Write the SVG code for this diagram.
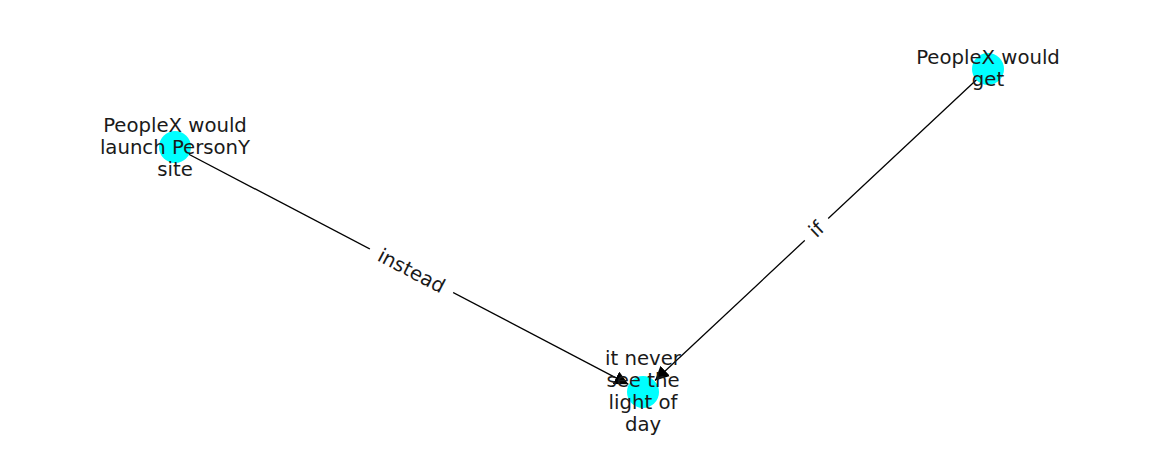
<svg xmlns="http://www.w3.org/2000/svg" width="1162" height="462" viewBox="0 0 1162 462">
<style>
.node{fill:#00ffff;stroke:none}
.edge{stroke:#000;stroke-width:1.3;fill:none}
text{font-family:"DejaVu Sans",sans-serif;font-size:19.7px;fill:#1a1a1a;text-anchor:middle}
.lbl{fill:#fff;stroke:none}
</style>
<defs>
<marker id="arr" viewBox="0 0 10 10" refX="10" refY="5" markerWidth="14" markerHeight="14" markerUnits="userSpaceOnUse" orient="auto">
<path d="M0,0 L10,5 L0,10 z" fill="#000"/>
</marker>
</defs>
<rect width="1162" height="462" fill="#fff"/>
<g id="edges">
<line class="edge" x1="175" y1="147" x2="628.4" y2="384.3" marker-end="url(#arr)"/>
<line class="edge" x1="988" y1="69" x2="655" y2="380.5" marker-end="url(#arr)"/>
<g transform="translate(411.5,270.8) rotate(27.6)">
<rect class="lbl" x="-47" y="-13" width="94" height="26"/>
<text x="0" y="6.8">instead</text>
</g>
<g transform="translate(816.3,229.3) rotate(-43.2)">
<rect class="lbl" x="-16" y="-13" width="32" height="26"/>
<text x="0" y="6.8">if</text>
</g>
</g>
<g id="n1">
<circle class="node" cx="643" cy="392" r="16"/>
<text x="643" y="365"><tspan x="643">it never</tspan><tspan x="643" dy="22">see the</tspan><tspan x="643" dy="22">light of</tspan><tspan x="643" dy="22">day</tspan></text>
</g>
<g id="n2">
<circle class="node" cx="175" cy="147" r="16"/>
<text x="175" y="131.5"><tspan x="175">PeopleX would</tspan><tspan x="175" dy="22">launch PersonY</tspan><tspan x="175" dy="22">site</tspan></text>
</g>
<g id="n3">
<circle class="node" cx="988" cy="69" r="16"/>
<text x="988" y="63.5"><tspan x="988">PeopleX would</tspan><tspan x="988" dy="22">get</tspan></text>
</g>
</svg>
